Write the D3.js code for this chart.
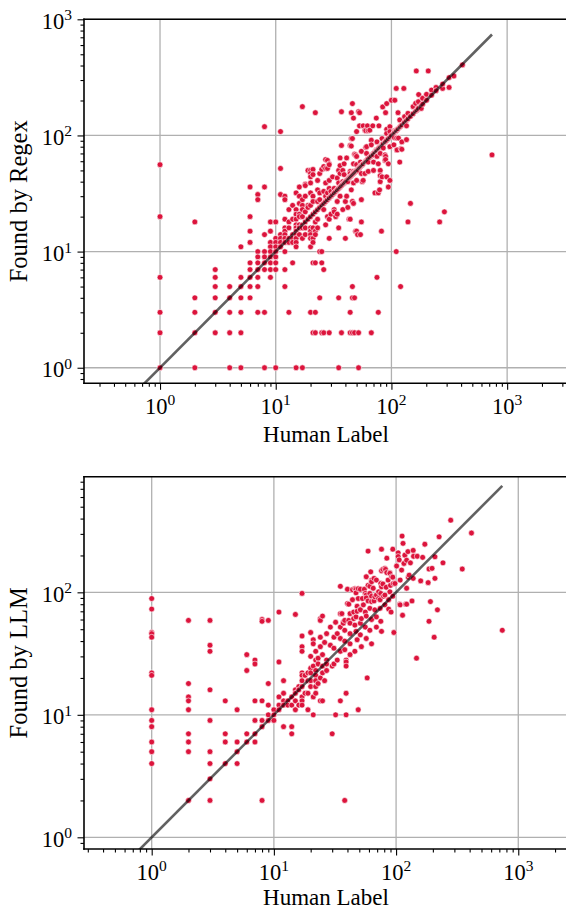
<!DOCTYPE html>
<html>
<head>
<meta charset="utf-8">
<script src="https://cdn.jsdelivr.net/npm/d3@7"></script>
<style>
  body { margin: 0; background: #fff; }
  svg { display: block; }
</style>
</head>
<body>
<div id="chart"></div>
<script>
// [human label, found by regex]
const regexPairs = [
  [1,56],[1,20],[1,6],[1,3],[1,2],[1,1],
  [2,18],[2,4],[2,3],[2,2],[2,1],
  [3,7],[3,6],[3,5],[3,4],[3,3],[3,2],
  [4,5],[4,4],[4,3],[4,2],[4,1],
  [5,11],[5,6],[5,5],[5,4],[5,3],[5,2],[5,1],
  [6,36],[6,20],[6,15],[6,12],[6,8],[6,7],[6,6],[6,5],[6,4],
  [7,31],[7,28],[7,10],[7,9],[7,8],[7,7],[7,6],[7,5],[7,3],
  [8,119],[8,36],[8,14],[8,10],[8,9],[8,8],[8,7],[8,3],[8,1],
  [9,18],[9,15],[9,12],[9,11],[9,10],[9,9],[9,8],[9,7],[9,6],
  [10,18],[10,13],[10,12],[10,11],[10,10],[10,9],[10,8],[10,7],[10,1],
  [11,108],[11,52],[11,31],[11,14],[11,13],[11,12],[11,11],
  [12,30],[12,28],[12,19],[12,16],[12,15],[12,14],[12,13],[12,12],[12,10],[12,7],[12,5],
  [13,23],[13,18],[13,16],[13,13],[13,12],[13,3],
  [14,25],[14,19],[14,14],[14,13],[14,12],[14,8],
  [15,32],[15,23],[15,21],[15,19],[15,17],[15,16],[15,15],[15,14],[15,13],[15,12],[15,11],[15,1],
  [16,36],[16,30],[16,26],[16,21],[16,20],[16,17],[16,16],[16,14],
  [17,177],[17,28],[17,25],[17,23],[17,20],[17,17],[17,16],[17,13],[17,1],
  [18,38],[18,37],[18,30],[18,22],[18,18],[18,16],[18,14],
  [19,50],[19,25],[19,24],[19,19],
  [20,50],[20,47],[20,44],[20,39],[20,32],[20,25],[20,20],[20,16],[20,15],[20,14],[20,13],[20,11],[20,3],
  [21,51],[21,46],[21,30],[21,27],[21,21],[21,16],[21,13],[21,12],[21,8],[21,2],
  [22,157],[22,22],[22,18],[22,15],[22,14],[22,8],[22,3],[22,2],
  [23,41],[23,34],[23,27],[23,23],[23,19],[23,16],
  [24,47],[24,32],[24,28],[24,24],[24,10],[24,4],
  [25,51],[25,25],[25,10],[25,8],[25,2],
  [26,54],[26,33],[26,26],[26,23],[26,7],[26,2],
  [27,62],[27,52],[27,39],[27,30],[27,27],[27,17],
  [28,61],[28,52],[28,32],[28,28],[28,20],
  [29,57],[29,56],[29,41],[29,35],[29,29],[29,19],[29,13],[29,2],
  [30,33],[30,30],[30,21],
  [31,44],[31,31],
  [32,35],[32,32],[32,23],[32,22],
  [33,33],[33,20],
  [34,43],[34,34],[34,27],[34,21],
  [35,50],[35,39],[35,35],[35,16],[35,4],[35,1],
  [36,64],[36,55],[36,47],[36,36],[36,30],
  [37,160],[37,82],[37,37],[37,2],
  [38,50],[38,40],[38,38],[38,23],
  [39,57],[39,46],[39,39],
  [40,40],[40,27],[40,13],
  [41,64],[41,41],[41,30],
  [42,42],[42,40],[42,24],
  [43,43],[43,19],
  [44,82],[44,49],[44,47],[44,44],[44,19],[44,3],[44,2],
  [45,157],[45,94],[45,81],[45,45],[45,34],
  [46,188],[46,94],[46,46],[46,27],[46,5],[46,4],[46,2],
  [47,141],[47,57],[47,49],[47,47],[47,39],[47,26],
  [48,69],[48,48],[48,4],[48,2],
  [49,68],[49,49],[49,15],
  [50,108],[50,66],[50,56],[50,50],[50,41],[50,15],
  [51,51],[51,14],
  [52,160],[52,52],[52,50],[52,2],[52,1],
  [53,157],[53,121],[53,53],
  [54,59],[54,54],[54,14],
  [55,73],[55,55],[55,47],[55,28],[55,18],
  [56,56],[56,40],
  [57,121],[57,57],[57,41],
  [59,111],[59,59],[59,47],
  [60,110],[60,79],[60,60],
  [61,80],[61,70],[61,61],
  [62,121],[62,62],
  [63,110],[63,63],[63,59],[63,49],
  [65,111],[65,65],
  [67,91],[67,83],[67,67],[67,2],
  [69,121],[69,69],
  [70,70],[70,68],[70,59],[70,50],
  [72,72],[72,32],
  [74,141],[74,75],[74,74],
  [75,88],[75,75],[75,66],[75,6],
  [77,77],[77,57],[77,32],[77,3],
  [78,121],[78,78],
  [79,34],
  [80,80],[80,70],[80,50],[80,45],[80,40],
  [82,82],[82,15],
  [83,94],[83,83],[83,44],
  [84,176],[84,84],
  [85,85],[85,78],
  [88,88],[88,68],[88,61],
  [89,157],[89,89],[89,66],[89,62],
  [91,188],[91,113],[91,104],[91,91],[91,44],
  [94,94],[94,57],[94,36],
  [97,119],[97,108],[97,97],[97,80],[97,41],
  [100,201],[100,100],
  [105,105],[105,83],
  [106,96],
  [107,201],[107,110],[107,107],
  [110,254],[110,110],[110,10],
  [111,111],[111,95],[111,75],
  [112,75],
  [114,157],[114,114],
  [115,95],
  [118,136],[118,118],[118,59],
  [120,120],[120,5],
  [121,77],
  [123,123],[123,88],[123,76],
  [128,254],[128,128],
  [130,145],[130,130],
  [135,135],[135,121],[135,92],
  [139,155],[139,139],[139,18],
  [146,146],[146,26],
  [154,177],[154,154],
  [162,189],[162,162],
  [164,359],
  [166,166],
  [171,195],[171,171],
  [172,225],
  [181,181],[181,171],
  [186,209],[186,186],
  [201,226],[201,201],
  [208,359],
  [222,246],[222,222],
  [243,259],[243,243],
  [261,18],
  [277,254],[277,277],
  [287,22],
  [315,259],[315,315],
  [347,325],
  [411,405],
  [740,68]
];

// [human label, found by LLM]
const llmPairs = [
  [1,89],[1,73],[1,47],[1,46],[1,43],[1,22],[1,21],[1,11],[1,9],[1,8],[1,6],[1,5],[1,4],
  [2,59],[2,18],[2,14],[2,13],[2,11],[2,7],[2,6],[2,5],[2,2],
  [3,59],[3,37],[3,33],[3,16],[3,9],[3,5],[3,4],[3,3],[3,2],
  [4,13],[4,7],[4,6],[4,4],
  [5,11],[5,6],[5,5],[5,4],
  [6,31],[6,23],[6,7],[6,6],
  [7,28],[7,26],[7,13],[7,9],[7,7],[7,6],
  [8,60],[8,58],[8,13],[8,9],[8,8],[8,2],
  [9,59],[9,18],[9,12],[9,10],[9,9],
  [10,11],[10,10],[10,9],
  [11,69],[11,27],[11,14],[11,12],[11,11],
  [12,19],[12,15],[12,13],[12,12],[12,8],
  [13,13],[13,12],
  [14,14],[14,12],[14,8],[14,7],
  [15,66],[15,16],[15,15],[15,13],[15,11],
  [16,17],[16,16],[16,12],
  [17,98],[17,44],[17,36],[17,33],[17,22],[17,21],[17,19],[17,17],[17,14],[17,13],[17,12],
  [18,21],[18,15],
  [19,22],[19,19],[19,15],[19,11],
  [20,47],[20,30],[20,24],[20,22],[20,19],[20,17],
  [21,41],[21,38],[21,25],[21,14],[21,10],
  [22,33],[22,28],[22,23],[22,21],[22,19],[22,17],[22,15],
  [23,29],[23,26],[23,18],
  [24,61],[24,59],[24,43],[24,36],[24,20],[24,13],
  [25,64],[25,31],[25,25],[25,22],[25,13],
  [26,39],[26,19],
  [27,46],[27,28],[27,26],[27,23],
  [29,52],[29,37],
  [30,25],[30,7],
  [31,43],[31,35],[31,26],
  [32,57],[32,10],
  [33,46],[33,28],
  [35,112],[35,67],[35,52],[35,42],[35,33],[35,13],
  [36,67],
  [37,57],[37,56],
  [38,59],[38,49],[38,40],[38,34],[38,2],
  [39,28],[39,27],[39,25],[39,15],[39,10],
  [40,106],[40,81],
  [41,80],[41,59],
  [42,67],[42,56],[42,46],[42,38],[42,31],
  [44,105],[44,87],
  [45,69],[45,61],
  [46,107],[46,54],[46,33],
  [47,106],[47,99],[47,63],[47,48],
  [48,77],[48,70],[48,41],
  [49,107],[49,89],[49,11],
  [51,106],[51,73],[51,72],[51,56],[51,45],
  [52,61],[52,36],
  [53,89],
  [54,79],
  [55,106],
  [56,98],[56,69],[56,52],
  [57,134],[57,95],[57,90],[57,64],[57,42],
  [58,20],
  [59,217],[59,114],[59,85],
  [61,112],[61,98],[61,74],[61,49],
  [62,147],
  [63,126],[63,122],[63,93],[63,84],[63,60],[63,38],
  [65,108],
  [66,130],[66,85],
  [67,92],[67,72],
  [69,126],[69,95],[69,63],[69,52],
  [72,101],[72,89],
  [74,87],[74,74],
  [75,118],[75,98],[75,58],
  [76,225],[76,150],[76,111],[76,48],
  [78,154],[78,117],
  [79,93],
  [81,157],[81,95],[81,79],
  [82,154],
  [83,110],
  [84,190],[84,145],
  [86,126],
  [87,87],[87,73],
  [89,145],[89,143],[89,101],
  [90,114],
  [91,69],
  [92,134],
  [94,225],[94,133],[94,93],
  [95,118],
  [96,47],
  [98,118],
  [101,164],
  [104,210],[104,196],
  [106,184],
  [107,80],
  [108,126],[108,79],
  [111,152],
  [112,288],
  [113,65],
  [114,251],
  [116,172],
  [118,201],
  [120,80],
  [122,183],[122,108],[122,80],
  [125,215],
  [126,133],
  [128,138],
  [131,174],
  [135,85],
  [138,220],[138,130],
  [139,197],
  [147,29],
  [149,197],
  [159,124],
  [165,193],
  [172,247],
  [183,120],
  [186,155],[186,58],
  [191,84],
  [197,157],
  [205,43],
  [208,195],[208,130],
  [218,72],
  [225,284],
  [242,174],
  [280,388],
  [348,155],
  [414,305],
  [740,49]
];

const xTitle = "Human Label";
const yTitles = ["Found by Regex", "Found by LLM"];

const width = 566, height = 910;
const axLeft = 84, axRight = 568;
const font = "'Liberation Serif', 'DejaVu Serif', serif";

// axis limits in powers of ten
const panels = [
  { pairs: regexPairs, yTitle: yTitles[0], top: 19.3, bottom: 383.3, xExp: [-0.657, 3.526], yExp: [-0.134, 3] },
  { pairs: llmPairs, yTitle: yTitles[1], top: 476.7, bottom: 849, xExp: [-0.554, 3.407], yExp: [-0.0955, 2.944] }
];

const svg = d3.select("#chart")
  .append("svg")
  .attr("width", width)
  .attr("height", height)
  .attr("viewBox", `0 0 ${width} ${height}`)
  .style("font-family", font);

panels.forEach((p, i) => drawPanel(svg, p, i));

function isMajor(v) {
  const e = Math.log10(v);
  return Math.abs(e - Math.round(e)) < 1e-9;
}

function drawPanel(svg, p, i) {
  const x = d3.scaleLog().domain(p.xExp.map(e => Math.pow(10, e))).range([axLeft, axRight]);
  const y = d3.scaleLog().domain(p.yExp.map(e => Math.pow(10, e))).range([p.bottom, p.top]);
  const g = svg.append("g");

  const clipId = "clip" + i;
  g.append("clipPath").attr("id", clipId)
    .append("rect")
    .attr("x", axLeft).attr("y", p.top)
    .attr("width", axRight - axLeft).attr("height", p.bottom - p.top);

  const xTicks = x.ticks(), yTicks = y.ticks();
  const xMajor = xTicks.filter(isMajor), yMajor = yTicks.filter(isMajor);
  const xMinor = xTicks.filter(v => !isMajor(v)), yMinor = yTicks.filter(v => !isMajor(v));

  //grid
  const grid = g.append("g").attr("stroke", "#b0b0b0").attr("stroke-width", 1.3);
  grid.selectAll(".gx").data(xMajor).join("line")
    .attr("x1", d => x(d)).attr("x2", d => x(d))
    .attr("y1", p.top).attr("y2", p.bottom);
  grid.selectAll(".gy").data(yMajor).join("line")
    .attr("x1", axLeft).attr("x2", axRight)
    .attr("y1", d => y(d)).attr("y2", d => y(d));

  //points
  g.append("g").attr("clip-path", `url(#${clipId})`)
    .selectAll("circle").data(p.pairs).join("circle")
    .attr("cx", d => x(d[0]))
    .attr("cy", d => y(d[1]))
    .attr("r", 2.9)
    .attr("fill", "#dc143c")
    .attr("stroke", "#fff")
    .attr("stroke-width", 0.6);

  //y = x reference line up to the largest human count
  const lo = x.domain()[0], hi = d3.max(p.pairs, d => d[0]);
  g.append("path")
    .datum([[lo, lo], [hi, hi]])
    .attr("clip-path", `url(#${clipId})`)
    .attr("d", d3.line().x(d => x(d[0])).y(d => y(d[1])))
    .attr("fill", "none")
    .attr("stroke", "#000")
    .attr("stroke-opacity", 0.62)
    .attr("stroke-width", 2.6);

  //ticks
  const addAxis = (axis, tr) => {
    const a = g.append("g").attr("transform", tr).call(axis);
    a.select(".domain").remove();
    a.selectAll("line").attr("stroke", "#000").attr("stroke-width", 1.1);
  };
  addAxis(d3.axisBottom(x).tickValues(xMajor).tickSize(6.5).tickSizeOuter(0).tickFormat(""), `translate(0,${p.bottom})`);
  addAxis(d3.axisBottom(x).tickValues(xMinor).tickSize(3.5).tickSizeOuter(0).tickFormat(""), `translate(0,${p.bottom})`);
  addAxis(d3.axisLeft(y).tickValues(yMajor).tickSize(6.5).tickSizeOuter(0).tickFormat(""), `translate(${axLeft},0)`);
  addAxis(d3.axisLeft(y).tickValues(yMinor).tickSize(3.5).tickSizeOuter(0).tickFormat(""), `translate(${axLeft},0)`);

  //spines
  const sp = g.append("g").attr("stroke", "#000").attr("stroke-width", 1.6).attr("stroke-linecap", "square");
  sp.append("line").attr("x1", axLeft).attr("x2", axLeft).attr("y1", p.top).attr("y2", p.bottom);
  sp.append("line").attr("x1", axLeft).attr("x2", axRight).attr("y1", p.bottom).attr("y2", p.bottom);
  sp.append("line").attr("x1", axLeft).attr("x2", axRight).attr("y1", p.top).attr("y2", p.top);

  //tick labels as 10^n
  const power = (sel) => {
    sel.append("tspan").text("10");
    sel.append("tspan").attr("dy", -8.5).attr("font-size", 15.5).text(d => Math.round(Math.log10(d)));
  };
  g.append("g").selectAll("text").data(xMajor).join("text")
    .attr("x", d => x(d)).attr("y", p.bottom + 30.5)
    .attr("text-anchor", "middle").attr("font-size", 22.5).attr("fill", "#000")
    .call(power);
  g.append("g").selectAll("text").data(yMajor).join("text")
    .attr("x", 72).attr("y", d => y(d) + 9.5)
    .attr("text-anchor", "end").attr("font-size", 22.5).attr("fill", "#000")
    .call(power);

  //axis titles
  g.append("text")
    .attr("x", (axLeft + axRight) / 2).attr("y", Math.min(p.bottom + 58.5, height - 5))
    .attr("text-anchor", "middle").attr("font-size", 23)
    .text(xTitle);
  g.append("text")
    .attr("transform", `translate(27,${(p.top + p.bottom) / 2}) rotate(-90)`)
    .attr("text-anchor", "middle").attr("font-size", 24.5)
    .text(p.yTitle);
}
</script>
</body>
</html>
